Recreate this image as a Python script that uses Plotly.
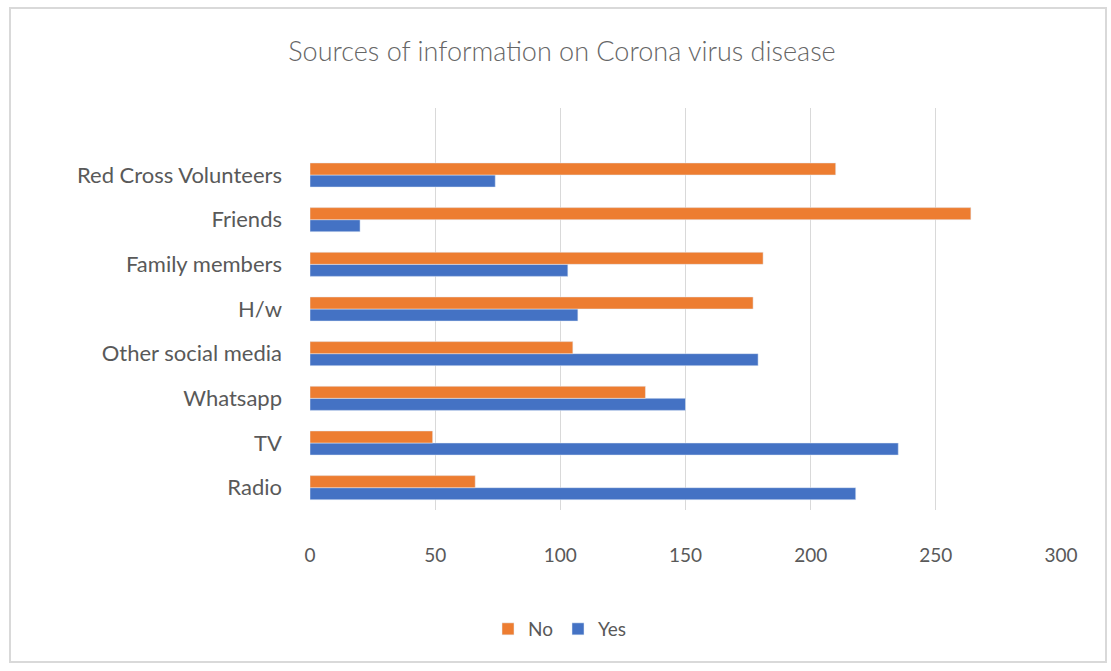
import plotly.graph_objects as go

categories = ["Radio", "TV", "Whatsapp", "Other social media", "H/w",
              "Family members", "Friends", "Red Cross Volunteers"]
yes_values = [218, 235, 150, 179, 107, 103, 20, 74]
no_values = [66, 49, 134, 105, 177, 181, 264, 210]
x_ticks = [0, 50, 100, 150, 200, 250, 300]

GREY = "#595959"
FONT = "Lato"

fig = go.Figure()
fig.add_trace(go.Bar(y=categories, x=yes_values, name="Yes", orientation="h",
                     marker=dict(color="#4472C4")))
fig.add_trace(go.Bar(y=categories, x=no_values, name="No", orientation="h",
                     marker=dict(color="#ED7D31")))

L, R, T, B = 310, 50, 108, 161
W, H = 1111, 671
pw, ph = W - L - R, H - T - B

fig.update_layout(
    width=W, height=H,
    margin=dict(l=L, r=R, t=T, b=B),
    paper_bgcolor="white", plot_bgcolor="white",
    barmode="group", bargap=0.46, bargroupgap=0,
    title=dict(text="Sources of information on Corona virus disease",
               x=562 / W, xanchor="center", y=1 - 52 / H, yanchor="middle",
               font=dict(family=FONT, size=27, color="#666666", weight=300)),
    font=dict(family=FONT, color=GREY),
    legend=dict(orientation="h", traceorder="reversed",
                x=560 / W, xref="container", xanchor="center",
                y=1 - 629 / H, yref="container", yanchor="middle",
                font=dict(family=FONT, size=19, color=GREY),
                itemwidth=30),
    xaxis=dict(range=[0, 300], tickvals=x_ticks, showgrid=True,
               gridcolor="#D9D9D9", gridwidth=1, zeroline=False,
               showline=False, ticks="", ticklabelstandoff=32,
               tickfont=dict(family=FONT, size=19, color=GREY)),
    yaxis=dict(categoryorder="array", categoryarray=categories,
               range=[-0.5, 8.5], showgrid=False, showline=False,
               ticks="", ticklabelstandoff=27,
               tickfont=dict(family=FONT, size=22, color=GREY)),
    shapes=[dict(type="rect", xref="paper", yref="paper",
                 x0=(10 - L) / pw, x1=(1106 - L) / pw,
                 y0=(H - B - 662) / ph, y1=(H - B - 8) / ph,
                 line=dict(color="#D9D9D9", width=2), layer="below")],
)

fig.write_html("out.html")
